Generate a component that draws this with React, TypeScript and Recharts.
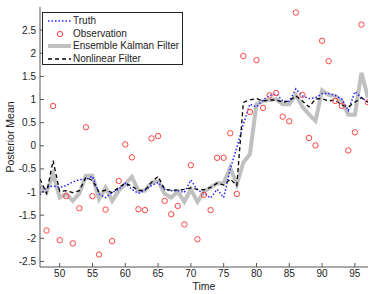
import { ComposedChart, Line, XAxis, YAxis, Legend } from "recharts"

const time = [
  47, 48, 49, 50, 51, 52, 53, 54, 55, 56, 57, 58, 59, 60, 61, 62, 63, 64, 65, 66, 67, 68, 69, 70, 71, 72,
  73, 74, 75, 76, 77, 78, 79, 80, 81, 82, 83, 84, 85, 86, 87, 88, 89, 90, 91, 92, 93, 94, 95, 96, 97,
]

const truth = [
  -1.06, -0.9, -0.87, -0.9, -0.86, -0.78, -0.73, -0.73, -0.66, -1.04, -1.12, -1.01, -0.94, -0.81, -0.94,
  -1.03, -0.96, -0.86, -0.79, -0.94, -0.97, -0.97, -1.01, -0.74, -0.96, -1.02, -1.13, -0.94, -1.12, -0.5,
  -0.04, 0.47, 0.9, 0.84, 0.99, 1.09, 1.12, 0.97, 0.96, 1.23, 1.08, 1.02, 1.04, 1.13, 1.13, 1.09, 1.01,
  0.76, 1.17, 1.04, 0.94,
]

const observation = [
  null, -1.83, 0.86, -2.04, -1.09, -2.11, -1.35, 0.4, -1.09, -2.35, -1.38, -2.06, -0.76, 0.03, -0.25,
  -1.37, -1.39, 0.16, 0.21, -1.19, -1.48, -1.3, -1.7, -0.42, -2.02, -1.06, -1.39, -0.26, -0.26, 0.27,
  -1.04, 1.94, 0.73, 1.85, 0.82, 1.09, 1.14, 0.63, 0.53, 2.88, 1.1, 0.17, 0.01, 2.27, 1.83, 0.97, 0.86,
  -0.1, 0.29, 2.62, 0.94,
]

const enkf = [
  -0.86, -1.0, -0.61, -1.12, -1.04, -1.19, -1.03, -0.65, -0.65, -1.15, -0.9, -1.19, -0.97, -0.83, -0.67,
  -0.97, -0.97, -0.79, -0.76, -1.04, -1.12, -0.99, -1.21, -0.94, -1.21, -0.99, -0.9, -0.81, -0.81, -0.47,
  -0.83, -0.36, -0.18, 0.9, 0.97, 0.99, 1.01, 0.9, 0.9, 1.1, 0.84, 0.68, 0.54, 1.2, 1.1, 1.08, 0.97, 0.67,
  0.67, 1.58, 1.04,
]

const nonlinear = [
  -0.72, -1.03, -0.32, -0.99, -0.97, -1.01, -0.97, -0.68, -0.75, -1.0, -0.96, -1.01, -0.9, -0.81, -0.87,
  -0.97, -0.96, -0.79, -0.66, -0.94, -0.96, -0.96, -0.94, -0.91, -0.94, -0.95, -0.9, -0.81, -0.85, -0.72,
  -0.86, 0.94, 0.99, 1.02, 0.97, 0.99, 0.99, 0.94, 0.97, 1.08, 0.97, 0.84, 1.01, 1.02, 0.97, 0.99, 0.88,
  0.84, 0.94, 1.04, 0.94,
]

const xTicks = [50, 55, 60, 65, 70, 75, 80, 85, 90, 95]
const yTicks = [-2.5, -2, -1.5, -1, -0.5, 0, 0.5, 1, 1.5, 2, 2.5]

const data = time.map((t, i) => ({
  t,
  truth: truth[i],
  obs: observation[i],
  enkf: enkf[i],
  nonlinear: nonlinear[i],
}))

const FONT = "'Liberation Sans', Arial, sans-serif"
const AXIS = "#555"
const TEXT = "#222"

const legendItems = [
  { name: "Truth", kind: "dot" },
  { name: "Observation", kind: "circle" },
  { name: "Ensemble Kalman Filter", kind: "gray" },
  { name: "Nonlinear Filter", kind: "dash" },
]

function LegendBox() {
  return (
    <div
      style={{
        border: "1px solid #222",
        background: "#fff",
        width: 141,
        height: 53,
        paddingTop: 2,
        boxSizing: "border-box",
        fontFamily: FONT,
        fontSize: 10,
        color: TEXT,
      }}
    >
      {legendItems.map((it) => (
        <div key={it.name} style={{ height: 12.5, display: "flex", alignItems: "center" }}>
          <svg width={30} height={12} style={{ flexShrink: 0 }}>
            {it.kind === "dot" && (
              <line x1={5} x2={28} y1={6} y2={6} stroke="#2222ff" strokeWidth={1.5} strokeDasharray="1.5 2" />
            )}
            {it.kind === "circle" && <circle cx={17} cy={6} r={2.7} stroke="#ff4444" fill="none" strokeWidth={1} />}
            {it.kind === "gray" && <line x1={5} x2={28} y1={6} y2={6} stroke="#c0c0c0" strokeWidth={4} />}
            {it.kind === "dash" && (
              <line x1={5} x2={28} y1={6} y2={6} stroke="#000" strokeWidth={1.3} strokeDasharray="4 3" />
            )}
          </svg>
          <span style={{ lineHeight: "12px" }}>{it.name}</span>
        </div>
      ))}
    </div>
  )
}

export default function App() {
  const tickStyle = { fontSize: 10, fill: TEXT, fontFamily: FONT }
  return (
    <div style={{ position: "absolute", left: 0, top: 0 }}>
      <ComposedChart width={374} height={294} data={data} margin={{ top: 7, right: 6, bottom: 0, left: 0 }}>
        <XAxis
          xAxisId="b"
          dataKey="t"
          type="number"
          domain={[47, 97]}
          ticks={xTicks}
          allowDataOverflow
          height={27}
          tickSize={-4}
          tickMargin={7}
          stroke={AXIS}
          tick={tickStyle}
          label={{
            content: ({ viewBox }: any) => (
              <text
                x={viewBox.x + viewBox.width / 2}
                y={290}
                textAnchor="middle"
                fontSize={10.5}
                fontFamily={FONT}
                fill={TEXT}
              >
                Time
              </text>
            ),
          }}
        />
        <XAxis
          xAxisId="t"
          dataKey="t"
          type="number"
          orientation="top"
          domain={[47, 97]}
          ticks={xTicks}
          allowDataOverflow
          height={0}
          tickSize={-4}
          stroke={AXIS}
          tickFormatter={() => ""}
        />
        <YAxis
          yAxisId="l"
          type="number"
          domain={[-2.62, 3]}
          ticks={yTicks}
          allowDataOverflow
          width={40}
          tickSize={-4}
          tickMargin={8}
          stroke={AXIS}
          tick={tickStyle}
          label={{
            content: ({ viewBox }: any) => {
              const cx = 10
              const cy = viewBox.y + viewBox.height / 2
              return (
                <text
                  x={cx}
                  y={cy}
                  transform={`rotate(-90, ${cx}, ${cy})`}
                  textAnchor="middle"
                  dominantBaseline="central"
                  fontSize={10.5}
                  fontFamily={FONT}
                  fill={TEXT}
                >
                  Posterior Mean
                </text>
              )
            },
          }}
        />
        <YAxis
          yAxisId="r"
          orientation="right"
          type="number"
          domain={[-2.62, 3]}
          ticks={yTicks}
          allowDataOverflow
          width={0}
          tickSize={-4}
          stroke={AXIS}
          tickFormatter={() => ""}
        />
        <Legend
          layout="vertical"
          align="center"
          verticalAlign="middle"
          content={() => <LegendBox />}
          wrapperStyle={{ left: 42, top: 12, width: 141 }}
        />
        <Line
          xAxisId="b"
          yAxisId="l"
          dataKey="enkf"
          stroke="#c0c0c0"
          strokeWidth={4}
          dot={false}
          isAnimationActive={false}
          strokeLinejoin="miter"
        />
        <Line
          xAxisId="b"
          yAxisId="l"
          dataKey="truth"
          stroke="#2222ff"
          strokeWidth={1.5}
          strokeDasharray="1.5 2"
          dot={false}
          isAnimationActive={false}
        />
        <Line
          xAxisId="b"
          yAxisId="l"
          dataKey="nonlinear"
          stroke="#000"
          strokeWidth={1.3}
          strokeDasharray="4 3"
          dot={false}
          isAnimationActive={false}
        />
        <Line
          xAxisId="b"
          yAxisId="l"
          dataKey="obs"
          stroke="none"
          dot={{ r: 2.7, stroke: "#ff4444", strokeWidth: 1, fill: "none" }}
          activeDot={false}
          isAnimationActive={false}
        />
      </ComposedChart>
    </div>
  )
}
